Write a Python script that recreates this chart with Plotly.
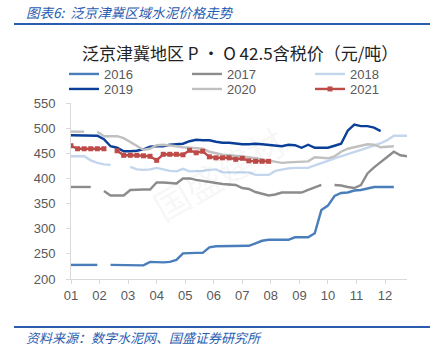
import plotly.graph_objects as go

# ---------------- data (weekly points, None = no data) ----------------
weeks = list(range(52))
month_labels = ["01", "02", "03", "04", "05", "06", "07", "08", "09", "10", "11", "12"]

y2016 = [228, 228, 228, 228, 228, None, 228, 228, 227, 227, 227, 227, 234, 233, 233, 234,
         238, 251, 252, 252, 252, 263, 265, 265, 265, 265, 265, 266, 271, 276, 278, 278,
         278, 278, 283, 283, 283, 291, 337, 346, 365, 371, 372, 376, 377, 380, 383, 383,
         383, 383]
y2017 = [383, 383, 383, 383, None, 375, 366, 366, 366, 377, 378, 378, 378, 392, 392, 391,
         390, 400, 400, 397, 395, 393, 390, 389, 388, 387, 381, 379, 373, 369, 366, 368,
         372, 372, 372, 372, 377, 382, 387, None, 387, 386, 383, 381, 387, 410, 422, 432,
         442, 453, 446, 444]
y2018 = [444, 444, 444, 436, 431, 428, 427, None, None, 423, 418, 417, 418, 421, 418, 415,
         414, 419, 414, 414, 415, 417, 418, 412, 412, 412, 412, 412, 407, 407, 407, 415,
         418, 420, 421, 421, 421, 426, 430, 435, 440, 444, 448, 453, 457, 461, 465, 470,
         476, 485, 485, 485]
y2019 = [486, 486, 486, 486, 485, 478, 464, 461, 454, 454, 455, 458, 463, 464, 464, 467,
         468, 469, 474, 477, 476, 476, 473, 471, 471, 469, 468, 468, 469, 468, 467, 466,
         464, 467, 466, 461, 467, 461, 461, 461, 465, 469, 495, 507, 504, 504, 501, 494]
y2020 = [493, 493, 493, None, 493, 484, 484, 484, 480, 472, 464, 457, 459, 466, 467, 466,
         464, 462, 461, 461, 459, 453, 450, 447, 446, 445, 444, 442, 440, 438, 435, 433,
         431, 432, 433, 433, 434, 442, 441, 440, 444, 453, 459, 462, 465, 468, 467, 462,
         463, 464]
y2021 = [465, 459, 459, 459, 459, 459, None, 455, 446, 446, 446, 445, 444, 436, 448, 448,
         448, 447, 456, 451, 454, 443, 441, 441, 441, 438, 440, 435, 434, 434, 434]

series = [
    ("2016", y2016, "#4a7ebb", "legend"),
    ("2017", y2017, "#8c8c8c", "legend"),
    ("2018", y2018, "#c3d6ee", "legend"),
    ("2019", y2019, "#0a3f99", "legend2"),
    ("2020", y2020, "#c0c0c0", "legend2"),
    ("2021", y2021, "#be4b48", "legend2"),
]

fig = go.Figure()
for name, ys, color, lg in series:
    kw = dict(mode="lines")
    if name == "2021":
        kw = dict(mode="lines+markers", marker=dict(symbol="square", size=5, color=color))
    fig.add_trace(go.Scatter(x=weeks[:len(ys)], y=ys, name=name, legend=lg,
                             line=dict(color=color, width=2.4), connectgaps=False, **kw))

W, H = 436, 360
ml, mr, mt, mb = 71, 29, 103, 81
pw, ph = W - ml - mr, H - mt - mb


def px(x):
    return (x - ml) / pw


def py(y):
    return (H - mb - y) / ph


tick_font = dict(family="Liberation Sans, Arial, sans-serif", size=13, color="#595959")

fig.update_layout(
    width=W, height=H,
    margin=dict(l=ml, r=mr, t=mt, b=mb, autoexpand=False),
    paper_bgcolor="white", plot_bgcolor="white",
    showlegend=True,
    legend=dict(orientation="h", x=px(64), y=py(59), xanchor="left", yanchor="top",
                entrywidth=78, entrywidthmode="pixels", font=tick_font,
                bgcolor="rgba(0,0,0,0)", itemwidth=30, tracegroupgap=0),
    legend2=dict(orientation="h", x=px(64), y=py(74), xanchor="left", yanchor="top",
                 entrywidth=78, entrywidthmode="pixels", font=tick_font,
                 bgcolor="rgba(0,0,0,0)", itemwidth=30, tracegroupgap=0),
    xaxis=dict(range=[0, 51], tickmode="array",
               tickvals=[i * 52 / 12 for i in range(12)], ticktext=month_labels,
               showgrid=False, zeroline=False, showline=True, linecolor="#d9d9d9",
               linewidth=1, ticks="outside", ticklen=4, tickcolor="#d9d9d9",
               tickfont=tick_font),
    yaxis=dict(range=[200, 550], tickmode="array", tickvals=list(range(200, 551, 50)),
               showgrid=False, zeroline=False, showline=True, linecolor="#d9d9d9",
               linewidth=1, ticks="outside", ticklen=4, tickcolor="#d9d9d9",
               tickfont=tick_font, ticklabelstandoff=8),
)

blue = "#2a5db0"
fig.add_shape(type="line", xref="paper", yref="paper", x0=px(14), x1=px(430),
              y0=py(24), y1=py(24), line=dict(color=blue, width=2))
fig.add_shape(type="line", xref="paper", yref="paper", x0=px(14), x1=px(430),
              y0=py(327), y1=py(327), line=dict(color=blue, width=2))

cjk = "Noto Sans CJK SC, sans-serif"
fig.add_annotation(xref="paper", yref="paper", x=px(24), y=py(12), xanchor="left",
                   yanchor="middle", showarrow=False,
                   text="<i>图表6:  泛京津冀区域水泥价格走势</i>",
                   font=dict(family=cjk, size=13.5, color="#2a5db0"))
fig.add_annotation(xref="paper", yref="paper", x=px(240), y=py(52), xanchor="center",
                   yanchor="middle", showarrow=False,
                   text="泛京津冀地区 P · O 42.5含税价（元/吨）",
                   font=dict(family=cjk, size=17, color="#222222"))
fig.add_annotation(xref="paper", yref="paper", x=px(24), y=py(337), xanchor="left",
                   yanchor="middle", showarrow=False,
                   text="<i>资料来源：数字水泥网、国盛证券研究所</i>",
                   font=dict(family=cjk, size=13, color="#2a5db0"))
fig.add_annotation(xref="paper", yref="paper", x=px(218), y=py(173), xanchor="center",
                   yanchor="middle", showarrow=False, textangle=-30,
                   text="国盛建材",
                   font=dict(family=cjk, size=36, color="rgba(0,0,0,0.05)"))

fig.write_html("out.html", config={"displayModeBar": False},
               post_script="document.body.style.margin='0';")
